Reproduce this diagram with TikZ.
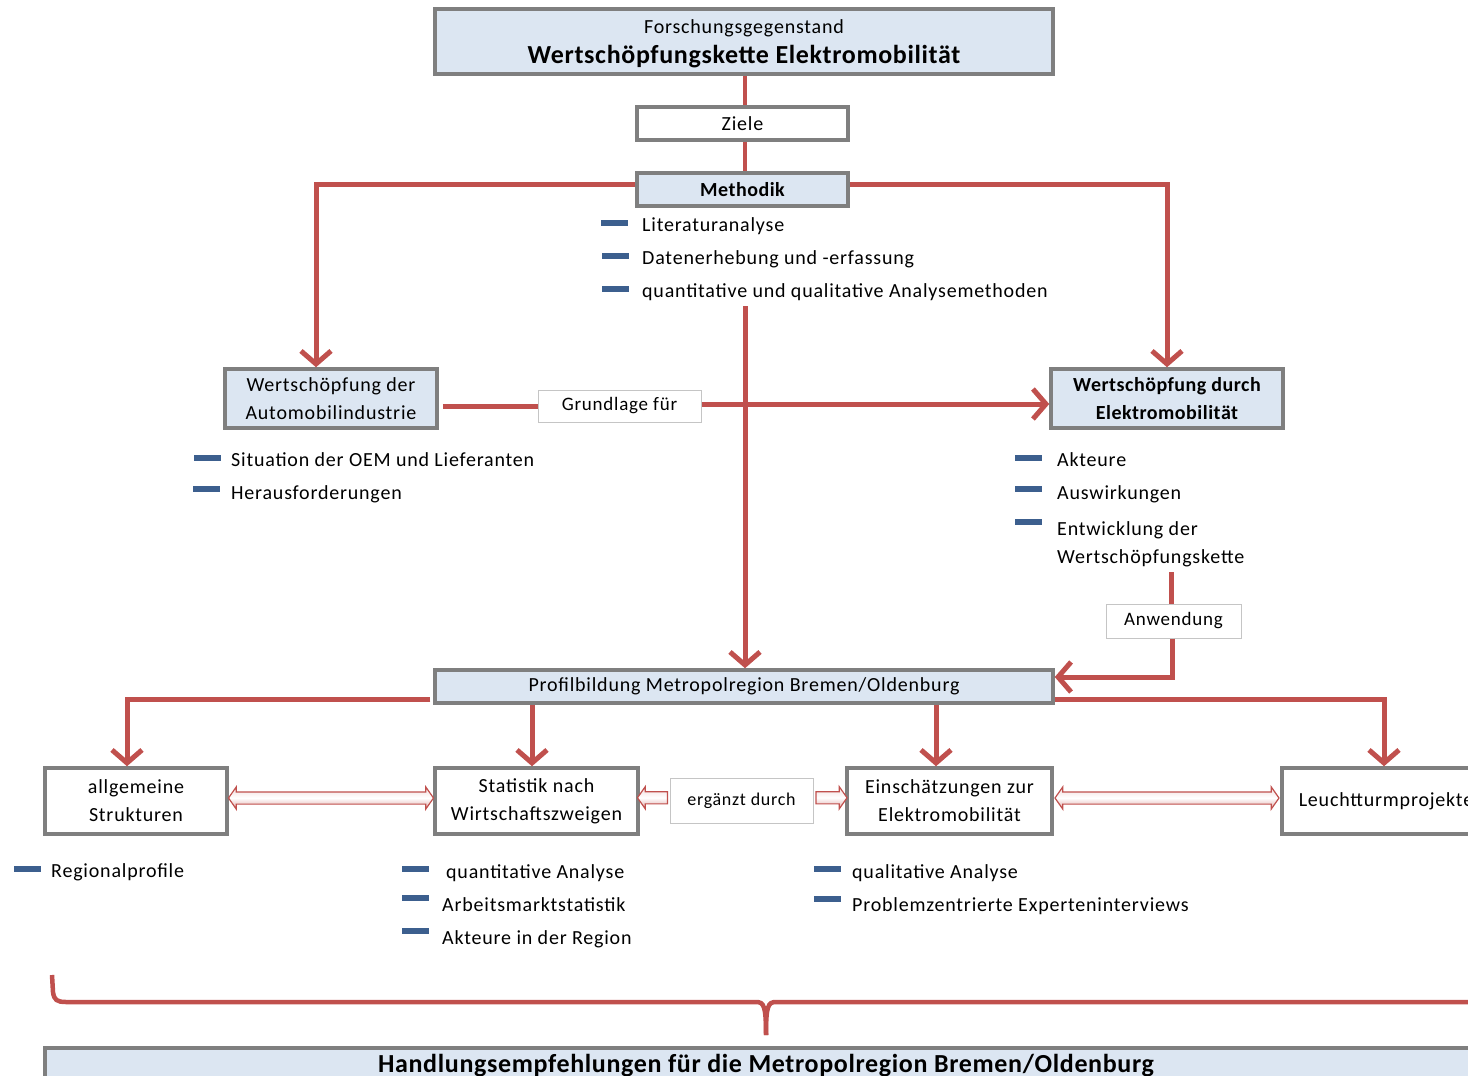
\documentclass[tikz,border=0pt]{standalone}
\usepackage{fontspec}
\setmainfont{Carlito}[LetterSpace=4,BoldFeatures={LetterSpace=2.5}]
\usetikzlibrary{arrows.meta,shapes.arrows,calc}
\definecolor{boxblue}{HTML}{DCE6F2}
\definecolor{boxgray}{HTML}{7F7F7F}
\definecolor{linered}{HTML}{C0504D}
\definecolor{barblue}{HTML}{3C5F8E}
\begin{document}
\begin{tikzpicture}[x=1pt,y=-1pt,
  box/.style={draw=boxgray, line width=3.5pt, fill=white, align=center,
    inner sep=0pt, font=\fontsize{20}{28}\selectfont},
  bluebox/.style={box, fill=boxblue},
  tag/.style={draw=boxgray!45, line width=1pt, fill=white, inner sep=0pt,
    font=\fontsize{19}{24}\selectfont},
  plain/.style={inner sep=0pt},
  redline/.style={draw=linered, line width=5pt},
  redarrow/.style={redline, -{Straight Barb[length=13pt,width=30pt]}},
  bulletbar/.style={fill=barblue, minimum width=27pt, minimum height=5.5pt, inner sep=0pt},
  item/.style={anchor=base west, inner sep=0pt, font=\fontsize{20}{24}\selectfont},
  fatdouble/.style={double arrow, draw=linered, line width=1.2pt,
    top color=linered!20, bottom color=linered!50, middle color=white,
    inner xsep=0pt, inner ysep=5.5pt, double arrow head extend=5pt,
    double arrow tip angle=110},
  fatsingle/.style={single arrow, draw=linered, line width=1.2pt,
    top color=linered!20, bottom color=linered!50, middle color=white,
    inner xsep=0pt, inner ysep=5.5pt, single arrow head extend=5pt,
    single arrow tip angle=110},
]
\useasboundingbox (0,0) rectangle (1468,1076);

% --- research subject, goals, method
\node[bluebox, minimum width=618pt, minimum height=65pt] (top) at (744,41.5) {};
\node[plain, font=\fontsize{20}{22}\selectfont] (topsub) at (744,28) {Forschungsgegenstand};
\node[plain, font=\fontsize{26}{28}\selectfont\bfseries] (toptitle) at (744,57)
  {Wertschöpfungskette Elektromobilität};
\node[box, minimum width=211pt, minimum height=33pt] (ziele) at (742.5,123.5) {Ziele};
\node[bluebox, minimum width=211pt, minimum height=33pt, font=\fontsize{20}{24}\selectfont\bfseries]
  (meth) at (742.5,189.5) {Methodik};

\node[bulletbar] (mb1) at (614,223) {};
\node[bulletbar] (mb2) at (615,256) {};
\node[bulletbar] (mb3) at (615,289) {};
\node[item] (mt1) at (642,231) {Literaturanalyse};
\node[item] (mt2) at (642,264) {Datenerhebung und -erfassung};
\node[item] (mt3) at (642,297) {quantitative und qualitative Analysemethoden};

% --- value creation boxes
\node[bluebox, minimum width=212pt, minimum height=59pt] (auto) at (331,398.5)
  {Wertschöpfung der\\Automobilindustrie};
\node[bluebox, minimum width=232pt, minimum height=59pt, font=\fontsize{20}{28}\selectfont\bfseries]
  (elek) at (1167,398.5) {Wertschöpfung durch\\Elektromobilität};
\node[tag, minimum width=163pt, minimum height=32pt] (grund) at (619.5,406) {Grundlage für};

\node[bulletbar] (ab1) at (207,458) {};
\node[bulletbar] (ab2) at (206,489) {};
\node[item] (at1) at (231,466) {Situation der OEM und Lieferanten};
\node[item] (at2) at (231,499) {Herausforderungen};

\node[bulletbar] (eb1) at (1028,458) {};
\node[bulletbar] (eb2) at (1028,489) {};
\node[bulletbar] (eb3) at (1028,522) {};
\node[item] (et1) at (1057,466) {Akteure};
\node[item] (et2) at (1057,499) {Auswirkungen};
\node[item] (et3) at (1057,535) {Entwicklung der};
\node[item] (et4) at (1057,563) {Wertschöpfungskette};

\node[tag, minimum width=135pt, minimum height=34pt] (anw) at (1173.5,621) {Anwendung};

% --- regional profile
\node[bluebox, minimum width=618pt, minimum height=33pt] (profil) at (744,686.5)
  {Profilbildung Metropolregion Bremen/Oldenburg};

\node[box, minimum width=182pt, minimum height=66pt] (allg) at (136,801) {allgemeine\\Strukturen};
\node[box, minimum width=203pt, minimum height=66pt] (stat) at (536.5,801) {Statistik nach\\Wirtschaftszweigen};
\node[tag, minimum width=143pt, minimum height=45pt, font=\fontsize{18}{22}\selectfont]
  (ergz) at (741.5,800.5) {ergänzt durch};
\node[box, minimum width=205pt, minimum height=66pt] (einsch) at (949.5,801) {Einschätzungen zur\\Elektromobilität};
\node[box, minimum width=208pt, minimum height=66pt] (leu) at (1386,801) {Leuchtturmprojekte};

\node[bulletbar] (rb1) at (27,869) {};
\node[item] (rt1) at (51,877) {Regionalprofile};

\node[bulletbar] (sb1) at (415,869) {};
\node[bulletbar] (sb2) at (415,898) {};
\node[bulletbar] (sb3) at (415,931) {};
\node[item] (st1) at (446,878) {quantitative Analyse};
\node[item] (st2) at (442,911) {Arbeitsmarktstatistik};
\node[item] (st3) at (442,944) {Akteure in der Region};

\node[bulletbar] (qb1) at (827,869) {};
\node[bulletbar] (qb2) at (827,899) {};
\node[item] (qt1) at (852,878) {qualitative Analyse};
\node[item] (qt2) at (852,911) {Problemzentrierte Experteninterviews};

% --- recommendations
\node[bluebox, minimum width=1442pt, minimum height=36pt,
  font=\fontsize{26}{28}\selectfont\bfseries] (hand) at (766,1066)
  {Handlungsempfehlungen für die Metropolregion Bremen/Oldenburg};

% --- connectors
\draw[redline, line width=4pt] (top.south -| 745,0) -- (ziele.north -| 745,0);
\draw[redline, line width=4pt] (ziele.south -| 745,0) -- (meth.north -| 745,0);
\draw[redarrow] ([yshift=5pt]meth.west) -| ([xshift=-15pt]auto.north);
\draw[redarrow] ([yshift=5pt]meth.east) -| (elek.north);
\coordinate (mdown) at (745,306);
\draw[redarrow] (mdown) -- (mdown |- profil.north);

\draw[redline] ([xshift=4pt]auto.east |- grund.west) -- (grund.west);
\draw[redarrow] ([yshift=2pt]grund.east) -- ([yshift=2pt]grund.east -| elek.west);

\coordinate (anwtop) at (1171,572);
\draw[redline] (anwtop) -- (anwtop |- anw.north);
\draw[redarrow] ([xshift=-1pt]anw.south) |- ([yshift=9.5pt]profil.east);

\draw[redarrow] ([xshift=-3pt,yshift=-13pt]profil.west) -| ([xshift=-9pt]allg.north);
\draw[redarrow] ([xshift=-4.5pt]stat.north |- profil.south) -- ([xshift=-4.5pt]stat.north);
\draw[redarrow] ([xshift=-13.5pt]einsch.north |- profil.south) -- ([xshift=-13.5pt]einsch.north);
\draw[redarrow] ([yshift=-12.5pt]profil.east) -| ([xshift=-2pt]leu.north);

% fat pink arrows between the profile boxes
\node[fatdouble, minimum height=205pt] (da1) at ($(allg.east)!0.5!(stat.west)+(0,-3)$) {};
\node[fatdouble, minimum height=224pt] (da2) at ($(einsch.east)!0.5!(leu.west)+(0,-3)$) {};
\node[fatsingle, minimum height=30pt, shape border rotate=180] (sa1)
  at ($(stat.east)!0.5!(ergz.west)+(0,-3)$) {};
\node[fatsingle, minimum height=31pt] (sa2) at ($(ergz.east)!0.5!(einsch.west)+(0,-3)$) {};

% brace collecting all results
\coordinate (brL) at (52,975);
\coordinate (brM) at (766,1035);
\coordinate (brR) at (1470,1002);
\draw[redline, line width=4.5pt] (brL) -- (53,992) .. controls (54,1000) and (57,1002) .. (66,1002)
  -- (756,1002) .. controls (764,1002) and (766,1006) .. (brM);
\draw[redline, line width=4.5pt] (brR) -- (776,1002) .. controls (768,1002) and (766,1006) .. (brM);
\end{tikzpicture}
\end{document}
